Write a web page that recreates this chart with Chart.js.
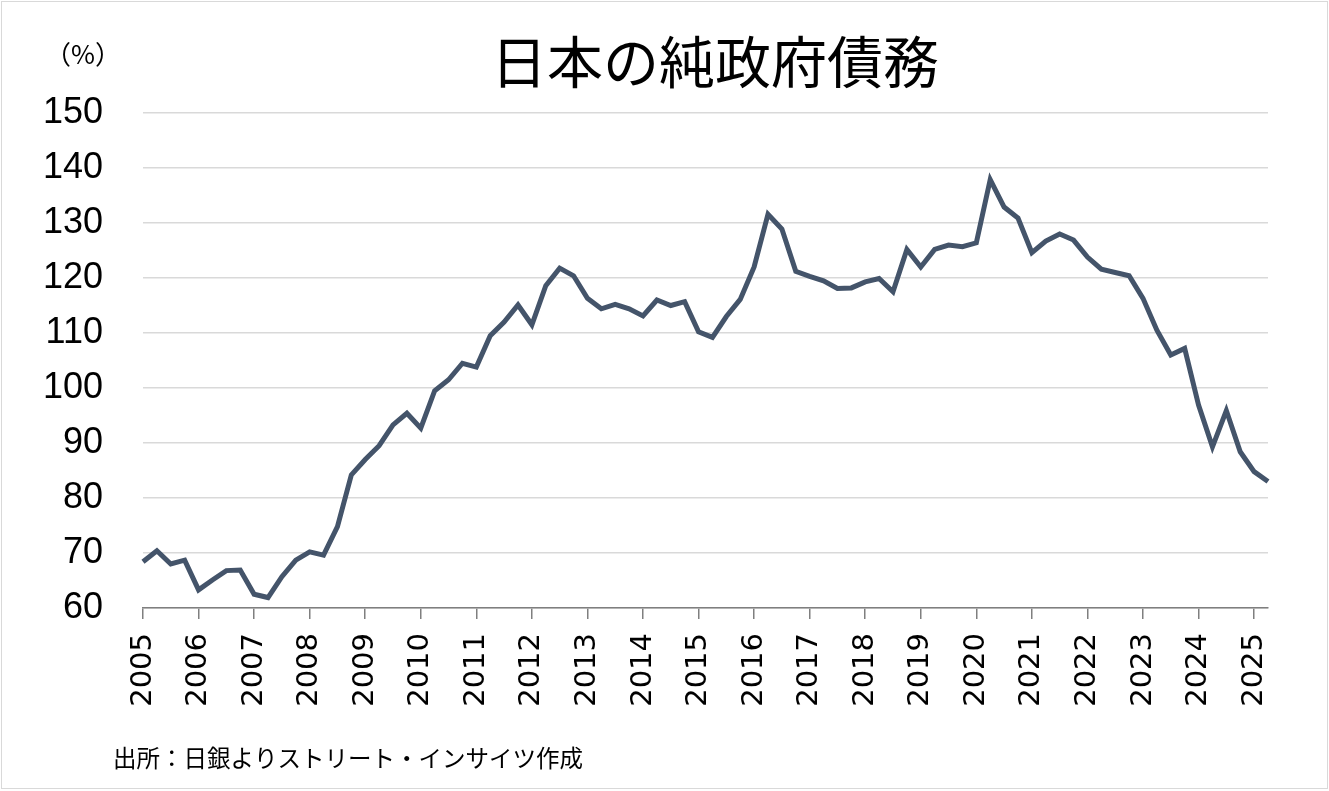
<!DOCTYPE html>
<html lang="ja">
<head>
<meta charset="utf-8">
<title>日本の純政府債務</title>
<script src="https://cdn.jsdelivr.net/npm/chart.js@4.4.1/dist/chart.umd.min.js"></script>
<style>
  html, body { margin: 0; padding: 0; background: #fff; overflow: hidden; }
  #wrap { position: relative; width: 1329px; height: 791px; }
</style>
</head>
<body>
<div id="wrap"><canvas id="myChart"></canvas></div>
<script>
// 四半期ラベル（2005年1Q〜2025年2Q）
const quarters = [
  '2005Q1','2005Q2','2005Q3','2005Q4','2006Q1','2006Q2','2006Q3','2006Q4',
  '2007Q1','2007Q2','2007Q3','2007Q4','2008Q1','2008Q2','2008Q3','2008Q4',
  '2009Q1','2009Q2','2009Q3','2009Q4','2010Q1','2010Q2','2010Q3','2010Q4',
  '2011Q1','2011Q2','2011Q3','2011Q4','2012Q1','2012Q2','2012Q3','2012Q4',
  '2013Q1','2013Q2','2013Q3','2013Q4','2014Q1','2014Q2','2014Q3','2014Q4',
  '2015Q1','2015Q2','2015Q3','2015Q4','2016Q1','2016Q2','2016Q3','2016Q4',
  '2017Q1','2017Q2','2017Q3','2017Q4','2018Q1','2018Q2','2018Q3','2018Q4',
  '2019Q1','2019Q2','2019Q3','2019Q4','2020Q1','2020Q2','2020Q3','2020Q4',
  '2021Q1','2021Q2','2021Q3','2021Q4','2022Q1','2022Q2','2022Q3','2022Q4',
  '2023Q1','2023Q2','2023Q3','2023Q4','2024Q1','2024Q2','2024Q3','2024Q4',
  '2025Q1','2025Q2'
];

// 純政府債務（GDP比、%）
const netDebt = [
  68.4, 70.4, 68.0, 68.7, 63.3, 65.1, 66.8, 66.9,
  62.5, 61.9, 65.7, 68.7, 70.2, 69.6, 74.8, 84.2,
  87.0, 89.5, 93.3, 95.4, 92.7, 99.5, 101.5, 104.5,
  103.8, 109.5, 112.0, 115.1, 111.5, 118.6, 121.8, 120.4,
  116.3, 114.4, 115.2, 114.4, 113.1, 116.0, 115.0, 115.7,
  110.2, 109.2, 113.0, 116.1, 122.0, 131.6, 128.9, 121.2,
  120.3, 119.5, 118.1, 118.2, 119.3, 119.9, 117.5, 125.2,
  122.0, 125.2, 126.0, 125.7, 126.4, 137.9, 132.9, 130.9,
  124.6, 126.7, 128.0, 126.9, 123.8, 121.6, 121.0, 120.4,
  116.3, 110.5, 106.0, 107.2, 96.9, 89.3, 95.9, 88.4,
  84.8, 83.0
];

const yTicks = [60, 70, 80, 90, 100, 110, 120, 130, 140, 150];

const titleText = '日本の純政府債務';
const unitText = '（%）';
const sourceText = '出所：日銀よりストリート・インサイツ作成';

const jp = '"Noto Sans CJK JP", "Noto Sans", sans-serif';

// タイトル・単位・出所・枠線
const textPlugin = {
  id: 'texts',
  afterDraw(chart) {
    const ctx = chart.ctx;
    ctx.save();
    ctx.fillStyle = '#000';
    ctx.textBaseline = 'middle';

    ctx.font = '56px ' + jp;
    ctx.textAlign = 'center';
    ctx.fillText(titleText, 715, 62);

    ctx.font = '26px ' + jp;
    ctx.fillText(unitText, 83, 54);

    ctx.font = '23.5px ' + jp;
    ctx.textAlign = 'left';
    ctx.fillText(sourceText, 113, 758);

    ctx.strokeStyle = '#d9d9d9';
    ctx.lineWidth = 1;
    ctx.strokeRect(1.5, 1.5, 1326, 787);
    ctx.restore();
  }
};

var ctx = document.getElementById('myChart').getContext('2d');
var chart = new Chart(ctx, {
  type: 'line',
  data: {
    labels: quarters,
    datasets: [{
      label: '純政府債務',
      data: netDebt,
      borderColor: '#44546a',
      backgroundColor: '#44546a',
      borderWidth: 5,
      pointRadius: 0,
      tension: 0,
      fill: false
    }]
  },
  options: {
    responsive: true,
    maintainAspectRatio: false,
    animation: false,
    layout: { padding: { top: 113, right: 61, bottom: 53, left: 0 } },
    plugins: {
      legend: { display: false },
      title: { display: false },
      tooltip: { enabled: false }
    },
    scales: {
      x: {
        type: 'category',
        offset: false,
        afterFit(scale) { scale.height = 130; },
        grid: {
          drawOnChartArea: false,
          drawTicks: true,
          tickLength: 11,
          color: '#7f7f7f',
          lineWidth: 1.5
        },
        border: { display: true, color: '#7f7f7f', width: 1.5 },
        ticks: {
          autoSkip: false,
          maxRotation: 90,
          minRotation: 90,
          padding: 14,
          color: '#000',
          font: { family: '"DejaVu Sans", sans-serif', size: 29 },
          callback(value, index) {
            const q = quarters[index];
            return q.endsWith('Q1') ? q.slice(0, 4) : null;
          }
        }
      },
      y: {
        min: 60,
        max: 150,
        afterFit(scale) { scale.width = 143; },
        afterBuildTicks(scale) { scale.ticks = yTicks.map(v => ({ value: v })); },
        grid: { color: '#d9d9d9', lineWidth: 1.5, drawTicks: false },
        border: { display: false },
        ticks: {
          padding: 40,
          color: '#000',
          font: { family: '"Liberation Sans", Arial, sans-serif', size: 36 }
        }
      }
    }
  },
  plugins: [textPlugin]
});
</script>
</body>
</html>
